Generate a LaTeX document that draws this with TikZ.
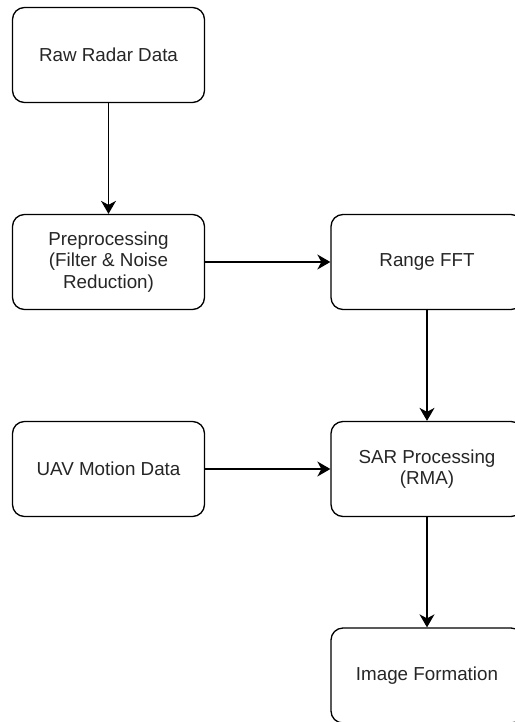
\documentclass[tikz,border=0pt]{standalone}
\usepackage{fontspec}
\setmainfont{Liberation Sans}
\usetikzlibrary{arrows.meta}
\begin{document}
\begin{tikzpicture}[x=1pt,y=1pt,
  box/.style={draw=black, line width=1.3pt, rounded corners=12pt, fill=white,
    minimum width=192pt, minimum height=95pt, align=center, inner sep=0pt,
    font=\fontsize{18.8}{21.7}\selectfont, text=black!85},
  conn/.style={draw=black, line width=1.3pt, -{Stealth[length=13pt,width=15pt,inset=4pt]}}]
\useasboundingbox (0,0) rectangle (514,-722);
\node[box] (raw) at (108.5,-55) {Raw Radar Data};
\node[box] (pre) at (108.5,-262) {Preprocessing\\(Filter \& Noise\\Reduction)};
\node[box] (fft) at (427,-262) {Range FFT};
\node[box] (uav) at (108.5,-469) {UAV Motion Data};
\node[box] (sar) at (427,-469) {SAR Processing\\(RMA)};
\node[box] (img) at (427,-675.5) {Image Formation};
\draw[conn] (raw) -- (pre);
\draw[conn] (pre) -- (fft);
\draw[conn] (fft) -- (sar);
\draw[conn] (uav) -- (sar);
\draw[conn] (sar) -- (img);
\end{tikzpicture}
\end{document}
